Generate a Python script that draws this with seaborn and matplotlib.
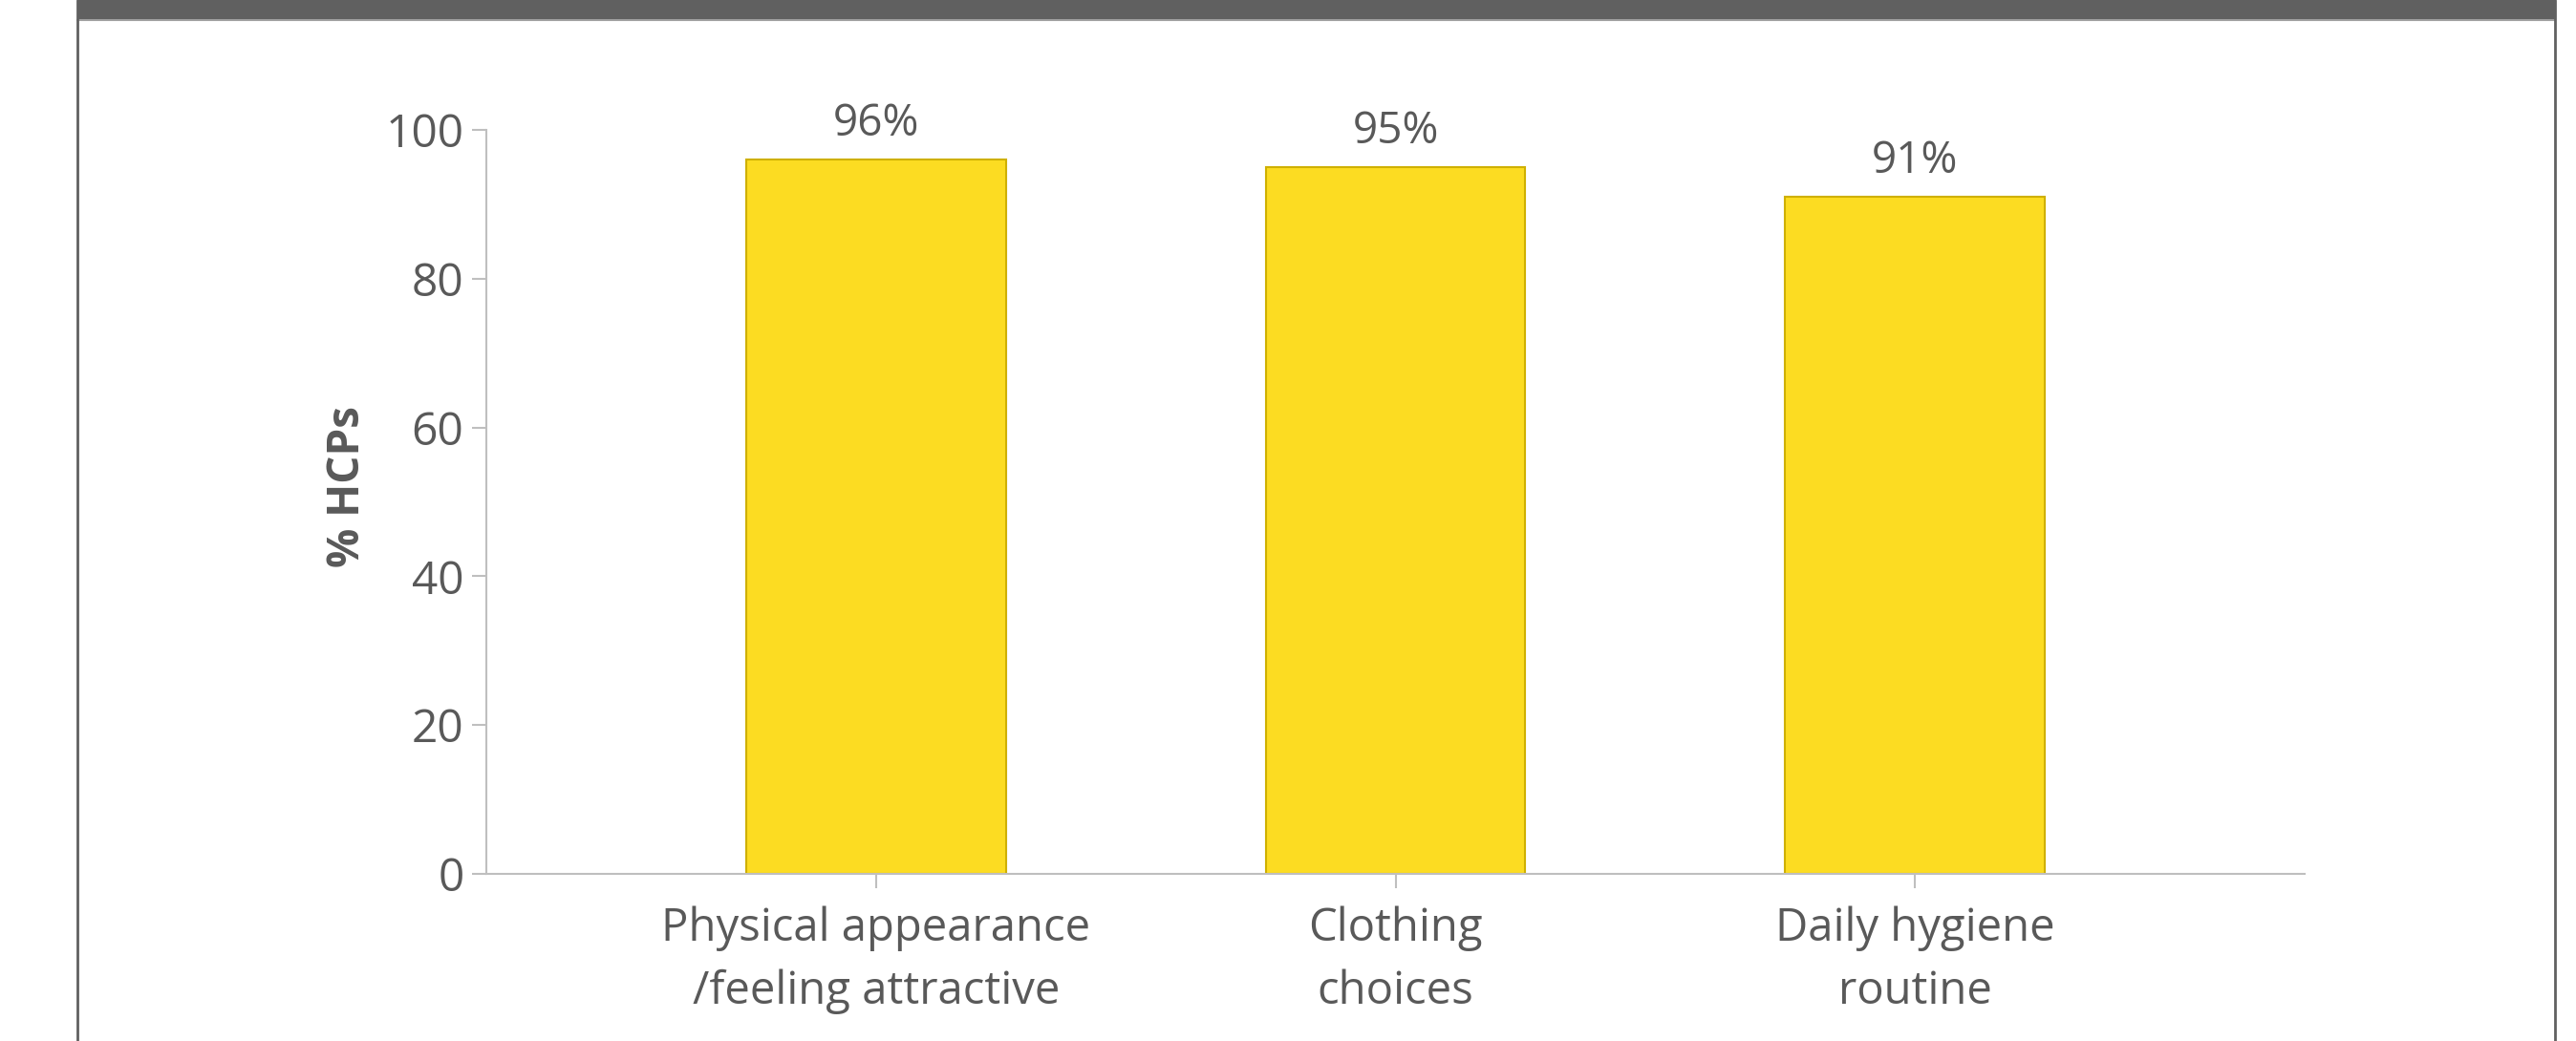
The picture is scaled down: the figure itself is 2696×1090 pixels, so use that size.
import matplotlib
matplotlib.use('Agg')
import matplotlib.pyplot as plt
import seaborn as sns
import pandas as pd
from matplotlib.patches import Rectangle
from matplotlib.lines import Line2D

# chart data
categories = ['Physical appearance\n/feeling attractive', 'Clothing\nchoices', 'Daily hygiene\nroutine']
values = [96, 95, 91]
value_labels = ['96%', '95%', '91%']
y_ticks = [0, 20, 40, 60, 80, 100]

df = pd.DataFrame({'category': categories, 'value': values})

sns.set_style('white')
plt.rcParams['font.family'] = ['Open Sans', 'DejaVu Sans']

text_col = '#595959'
axis_col = '#BFBFBF'

fig = plt.figure(figsize=(26.96, 10.9), dpi=100)
ax = fig.add_axes([0.1888, 0.1606, 0.8947 - 0.1888, 0.8752 - 0.1606])

sns.barplot(data=df, x='category', y='value', ax=ax, color='#FCDC22',
            width=0.5, edgecolor='#CFB000', linewidth=1.5, saturation=1)

ax.set_xlim(-0.75, 2.75)
ax.set_ylim(0, 100)
ax.set_yticks(y_ticks)
ax.tick_params(axis='y', labelsize=34.5, colors=axis_col, labelcolor=text_col,
               length=11, width=1.5, direction='out', left=True, pad=6)
ax.tick_params(axis='x', labelsize=34, colors=axis_col, labelcolor=text_col,
               length=11, width=1.5, direction='out', bottom=True, pad=13)
for lbl in ax.get_xticklabels():
    lbl.set_linespacing(1.5)

for s in ['top', 'right']:
    ax.spines[s].set_visible(False)
for s in ['left', 'bottom']:
    ax.spines[s].set_color(axis_col)
    ax.spines[s].set_linewidth(1.5)

ax.set_xlabel('')
ax.set_ylabel('% HCPs', fontsize=33, fontweight='bold', color=text_col)
ax.yaxis.set_label_coords(-0.064, 0.52)

for i, (v, t) in enumerate(zip(values, value_labels)):
    ax.annotate(t, xy=(i, v), xytext=(0, 26.5), textcoords='offset points',
                ha='center', va='center', fontsize=33, color=text_col)

# header bar and frame lines
fig.patches.append(Rectangle((81 / 2696, 1 - 20 / 1090), (2674 - 81) / 2696, 20 / 1090,
                             transform=fig.transFigure, facecolor='#606060',
                             edgecolor='none', zorder=5))
fig.lines.append(Line2D([81 / 2696, 2674 / 2696], [1 - 21 / 1090] * 2,
                        transform=fig.transFigure, color='#A0A0A0', linewidth=1.5))
for xf in [81 / 2696, 2674 / 2696]:
    fig.lines.append(Line2D([xf, xf], [0, 1], transform=fig.transFigure,
                            color='#606060', linewidth=2))

fig.savefig('out.png', dpi=100)
plt.close(fig)
